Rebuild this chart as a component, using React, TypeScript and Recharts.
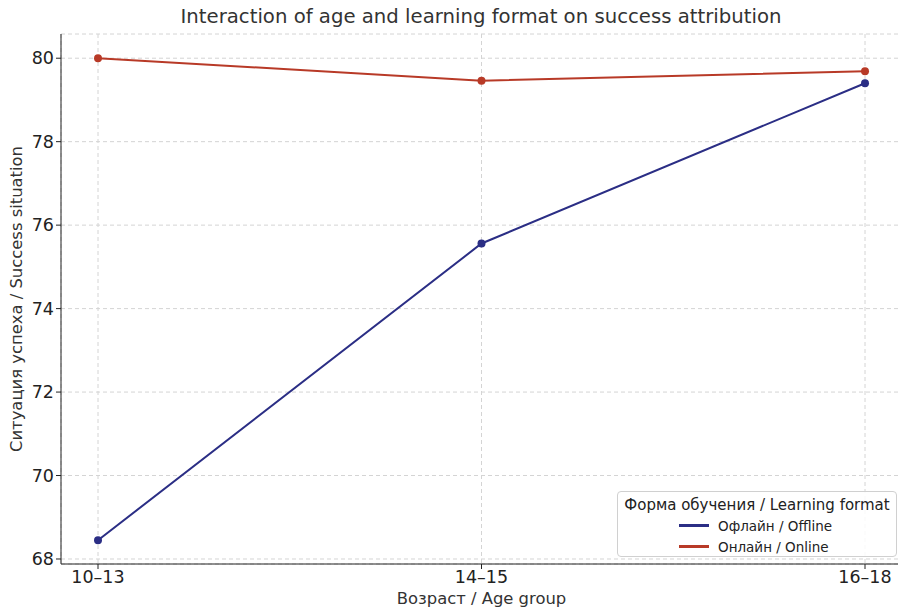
import React from 'react';
import { LineChart, Line, XAxis, YAxis, CartesianGrid } from 'recharts';

const ageGroups = ['10–13', '14–15', '16–18'];
const offline = [68.45, 75.56, 79.4];
const online = [80.0, 79.46, 79.69];
const yTicks = [68, 70, 72, 74, 76, 78, 80];

const OFFLINE_COLOR = '#2b2e85';
const ONLINE_COLOR = '#b83a27';
const FONT = '"DejaVu Sans", sans-serif';

const data = ageGroups.map((age, i) => ({ age, offline: offline[i], online: online[i] }));

const legendItems = [
  { label: 'Офлайн / Offline', color: OFFLINE_COLOR },
  { label: 'Онлайн / Online', color: ONLINE_COLOR },
];

function LegendBox() {
  return (
    <div
      style={{
        position: 'absolute',
        left: 617,
        top: 491,
        width: 280,
        height: 66,
        border: '1px solid #d0d0d0',
        borderRadius: 4,
        background: 'rgba(255,255,255,0.85)',
        fontFamily: FONT,
        color: '#222',
        boxSizing: 'border-box',
        whiteSpace: 'nowrap',
      }}
    >
      <div style={{ fontSize: 15, textAlign: 'center', marginTop: 3, height: 20, lineHeight: '20px' }}>
        Форма обучения / Learning format
      </div>
      {legendItems.map((it) => (
        <div key={it.label} style={{ display: 'flex', alignItems: 'center', fontSize: 13.5, marginLeft: 61, height: 21 }}>
          <span style={{ display: 'inline-block', width: 30, height: 2.5, background: it.color, marginRight: 9 }} />
          {it.label}
        </div>
      ))}
    </div>
  );
}

export default function App() {
  return (
    <div style={{ position: 'absolute', left: 0, top: 0, width: 898, height: 608, overflow: 'hidden', background: '#fff' }}>
      <div
        style={{
          position: 'absolute',
          left: 0,
          width: 962,
          top: 5,
          textAlign: 'center',
          fontFamily: FONT,
          fontSize: 19.7,
          color: '#333',
        }}
      >
        Interaction of age and learning format on success attribution
      </div>
      <LineChart width={902} height={608} data={data} margin={{ top: 34, right: 0, bottom: 0, left: 0 }}>
        <CartesianGrid stroke="#d4d4d4" strokeDasharray="4 3" />
        <XAxis
          dataKey="age"
          height={44}
          padding={{ left: 37, right: 37 }}
          stroke="#222"
          tickSize={5}
          tick={{ fill: '#222', fontSize: 17.5, fontFamily: FONT }}
          label={{ value: 'Возраст / Age group', position: 'insideBottom', offset: 4, fill: '#333', fontSize: 16.4, fontFamily: FONT }}
        />
        <YAxis
          width={61}
          domain={[67.88, 80.58]}
          ticks={yTicks}
          allowDataOverflow
          stroke="#222"
          tickSize={5}
          tick={{ fill: '#222', fontSize: 17.5, fontFamily: FONT }}
          label={{
            value: 'Ситуация успеха / Success situation',
            angle: -90,
            position: 'insideLeft',
            offset: 16,
            fill: '#333',
            fontSize: 16.4,
            fontFamily: FONT,
            style: { textAnchor: 'middle' },
          }}
        />
        <Line
          dataKey="offline"
          stroke={OFFLINE_COLOR}
          strokeWidth={2}
          dot={{ r: 4, fill: OFFLINE_COLOR, stroke: OFFLINE_COLOR, strokeWidth: 0 }}
          isAnimationActive={false}
        />
        <Line
          dataKey="online"
          stroke={ONLINE_COLOR}
          strokeWidth={2}
          dot={{ r: 4, fill: ONLINE_COLOR, stroke: ONLINE_COLOR, strokeWidth: 0 }}
          isAnimationActive={false}
        />
      </LineChart>
      <LegendBox />
    </div>
  );
}
